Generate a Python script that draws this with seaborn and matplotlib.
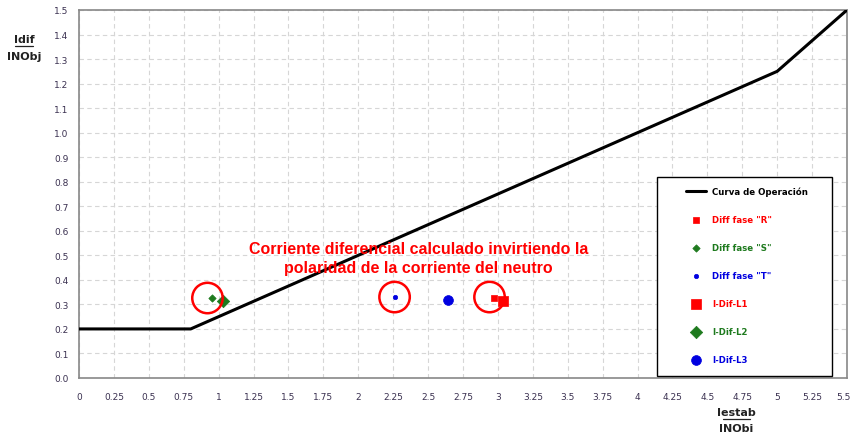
import matplotlib
matplotlib.use("Agg")
import matplotlib.pyplot as plt
import matplotlib.transforms as mtransforms
import seaborn as sns
import pandas as pd
from matplotlib.lines import Line2D
from matplotlib.patches import Rectangle

# Operating curve
curve_x = [0.0, 0.8, 5.0, 5.5]
curve_y = [0.2, 0.2, 1.25, 1.5]

# Measured points
series_names = ['Diff fase "R"', 'Diff fase "S"', 'Diff fase "T"', 'I-Dif-L1', 'I-Dif-L2', 'I-Dif-L3']
series_x = [2.97, 0.95, 2.26, 3.04, 1.03, 2.64]
series_y = [0.326, 0.326, 0.330, 0.314, 0.314, 0.318]
series_colors = ['#ff0000', '#1e7a1e', '#0000e0', '#ff0000', '#1e7a1e', '#0000e0']
series_markers = ['s', 'D', 'o', 's', 'D', 'o']
series_sizes = [14, 14, 10, 55, 40, 50]

# Highlight circles
circle_x = [0.92, 2.26, 2.94]
circle_y = [0.326, 0.330, 0.330]

x_ticks = [0, 0.25, 0.5, 0.75, 1, 1.25, 1.5, 1.75, 2, 2.25, 2.5, 2.75, 3, 3.25, 3.5,
           3.75, 4, 4.25, 4.5, 4.75, 5, 5.25, 5.5]
x_labels = ["0", "0.25", "0.5", "0.75", "1", "1.25", "1.5", "1.75", "2", "2.25", "2.5", "2.75",
            "3", "3.25", "3.5", "3.75", "4", "4.25", "4.5", "4.75", "5", "5.25", "5.5"]
y_ticks = [round(0.1 * i, 1) for i in range(16)]
y_labels = [f"{v:.1f}" for v in y_ticks]

annotation = "Corriente diferencial calculado invirtiendo la\npolaridad de la corriente del neutro"

sns.set_style("white")
plt.rcParams['font.family'] = ['DejaVu Sans']

fig = plt.figure(figsize=(8.52, 4.35), dpi=100)
ax = fig.add_axes([79/852, 1 - 379/435, 768/852, 368/435])

df_curve = pd.DataFrame({"x": curve_x, "y": curve_y})
sns.lineplot(data=df_curve, x="x", y="y", ax=ax, color="black", linewidth=2.2,
             sort=False, estimator=None, label="Curva de Operación", zorder=3)

for name, xv, yv, c, m, s in zip(series_names, series_x, series_y, series_colors,
                                  series_markers, series_sizes):
    d = pd.DataFrame({"x": [xv], "y": [yv]})
    sns.scatterplot(data=d, x="x", y="y", ax=ax, color=c, marker=m, s=s,
                    edgecolor=c, linewidth=0.5, label=name, zorder=4)

dc = pd.DataFrame({"x": circle_x, "y": circle_y})
sns.scatterplot(data=dc, x="x", y="y", ax=ax, marker='o', s=480, facecolor='none',
                edgecolor='#ff0000', linewidth=1.8, legend=False, zorder=5)

ax.text(2.43, 0.49, annotation, color='#ff0000', fontsize=11.5, fontweight='bold',
        ha='center', va='center', family=['Liberation Sans'], linespacing=1.3, zorder=6)

ax.set_xlim(0, 5.5)
ax.set_ylim(0, 1.5)
ax.set_xticks(x_ticks)
ax.set_xticklabels(x_labels)
ax.set_yticks(y_ticks)
ax.set_yticklabels(y_labels)
ax.tick_params(axis='both', labelsize=6.5, labelcolor='#3a3050', color='#888888',
               length=4, width=1, direction='out')
ax.tick_params(axis='x', pad=6)
ax.set_xlabel("")
ax.set_ylabel("")
ax.grid(True, linestyle=(0, (4, 3)), color='#d6d6d6', linewidth=0.8)
for sp in ax.spines.values():
    sp.set_color('#888888')
    sp.set_linewidth(1.2)

# keep the last x tick label inside the canvas
last = ax.get_xticklabels()[-1]
last.set_transform(last.get_transform() +
                   mtransforms.ScaledTranslation(-4/100, 0, fig.dpi_scale_trans))

# Legend frame (drawn separately) and frameless legend inside
ax.add_patch(Rectangle((578/768, 2/368), 175/768, 199/368, transform=ax.transAxes,
                       facecolor='white', edgecolor='black', linewidth=1.0, zorder=7,
                       clip_on=False))
leg = ax.legend(loc='upper left', bbox_to_anchor=(607/768, (379-188)/368),
                frameon=False, fontsize=6.2, labelspacing=2.2, handlelength=2.3,
                handletextpad=0.7, borderpad=0, borderaxespad=0)
leg.set_zorder(8)
text_colors = ['black'] + series_colors
for t, c in zip(leg.get_texts(), text_colors):
    t.set_color(c)
    t.set_fontweight('bold')

# Axis titles
fig.text(24/852, 1 - 40/435, "Idif", ha='center', va='center', fontsize=8,
         fontweight='bold', color='#222222')
fig.add_artist(Line2D([15/852, 33/852], [1 - 47/435, 1 - 47/435], color='#222222', lw=0.9))
fig.text(24/852, 1 - 57/435, "INObj", ha='center', va='center', fontsize=8,
         fontweight='bold', color='#222222')
fig.text(736/852, 1 - 413/435, "Iestab", ha='center', va='center', fontsize=8,
         fontweight='bold', color='#222222')
fig.add_artist(Line2D([723/852, 750/852], [1 - 420/435, 1 - 420/435], color='#222222', lw=0.9))
fig.text(736/852, 1 - 429/435, "INObi", ha='center', va='center', fontsize=8,
         fontweight='bold', color='#222222')

fig.savefig("out.png", dpi=100)
